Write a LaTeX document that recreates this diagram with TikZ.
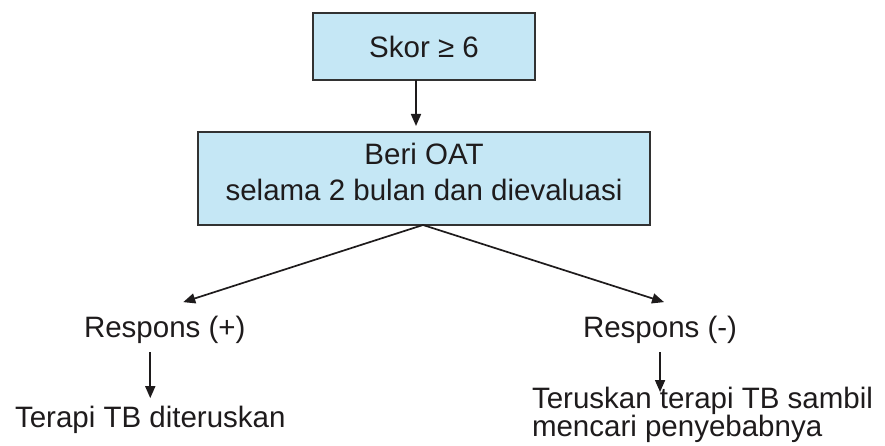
\documentclass[tikz,border=0pt]{standalone}
\usepackage{fontspec}
\setmainfont{Liberation Sans}
\usetikzlibrary{arrows.meta}
\definecolor{boxfill}{RGB}{197,231,245}
\definecolor{boxline}{RGB}{50,50,50}
\definecolor{ink}{RGB}{30,27,28}
\tikzset{
  panel/.style={draw=boxline, line width=1.8pt, fill=boxfill, inner sep=0pt, outer sep=0pt},
  txt/.style={text=ink, inner sep=0pt, outer sep=0pt, font=\fontsize{29.5}{36}\selectfont},
  arr/.style={draw=ink, line width=1.7pt, -{Triangle[length=12pt,width=10pt]}}
}
\begin{document}
\begin{tikzpicture}[x=1pt, y=-1pt]
  \fill[white] (0,0) rectangle (885,446);
  \useasboundingbox (0,0) rectangle (885,446);

  % top box
  \node[panel, txt, minimum width=222pt, minimum height=67pt] (skor) at (424,46.5) {Skor ≥ 6};

  % treatment box and its two-line text
  \node[panel, minimum width=452pt, minimum height=93pt] (oat) at (424,178.5) {};
  \node[txt, align=center] (oattext) at (424,171.5) {Beri OAT\\selama 2 bulan dan dievaluasi};

  % responses
  \node[txt, anchor=base west] (rp) at (84,337) {Respons (+)};
  \node[txt, anchor=base west] (rn) at (583,337) {Respons (-)};

  % outcomes
  \node[txt, anchor=base west] (td) at (15,427) {Terapi TB diteruskan};
  \node[txt, anchor=north west, align=left, font=\fontsize{29.5}{28}\selectfont] (tb) at (532,387.5)
    {Teruskan terapi TB sambil\\mencari penyebabnya};

  % connectors
  \draw[arr, shorten >=6pt] ([xshift=-8pt]skor.south) -- ([xshift=-8pt]oat.north);
  \draw[arr] ([xshift=-1pt]oat.south) -- ([xshift=18.5pt, yshift=13.5pt]rp.north);
  \draw[arr] ([xshift=-1pt]oat.south) -- ([xshift=4pt, yshift=13.5pt]rn.north);
  \draw[arr, shorten <=9pt, shorten >=7.5pt] (rp.south -| td.north) -- (td.north);
  \draw[arr, shorten <=9pt, shorten >=-4.5pt] (rn.south) -- (rn.south |- tb.north);
\end{tikzpicture}
\end{document}
